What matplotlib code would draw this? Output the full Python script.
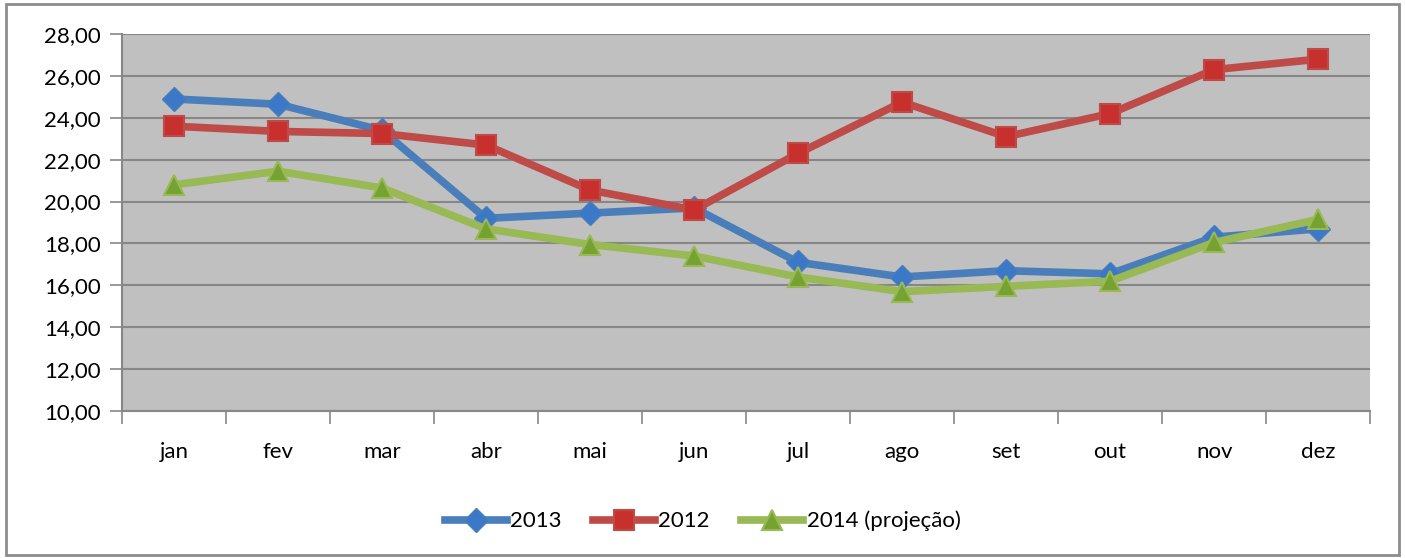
import matplotlib.pyplot as plt
import matplotlib.patches as patches
from matplotlib.ticker import FuncFormatter

months = ['jan', 'fev', 'mar', 'abr', 'mai', 'jun', 'jul', 'ago', 'set', 'out', 'nov', 'dez']
v2013 = [24.9, 24.65, 23.4, 19.2, 19.45, 19.7, 17.1, 16.4, 16.7, 16.55, 18.3, 18.7]
v2012 = [23.6, 23.35, 23.25, 22.7, 20.55, 19.6, 22.3, 24.75, 23.1, 24.2, 26.3, 26.8]
v2014 = [20.8, 21.45, 20.65, 18.7, 17.95, 17.4, 16.4, 15.7, 15.95, 16.2, 18.05, 19.15]

plt.rcParams['font.family'] = ['Lato', 'DejaVu Sans']

fig = plt.figure(figsize=(14.05, 5.58), dpi=100)
ax = fig.add_axes([0.0868, 0.2634, 0.8884, 0.6756])
ax.set_facecolor('#c0c0c0')

x = list(range(len(months)))
ax.plot(x, v2013, color='#4a7ebb', lw=5.5, marker='D', ms=12,
        mfc='#3c78c8', mec='#4a7ebb', mew=1, label='2013', zorder=3)
ax.plot(x, v2012, color='#be4b48', lw=5.5, marker='s', ms=15,
        mfc='#c8302e', mec='#be4b48', mew=1.5, label='2012', zorder=4)
ax.plot(x, v2014, color='#98b954', lw=5.5, marker='^', ms=15,
        mfc='#76a232', mec='#98b954', mew=1.5, label='2014 (projeção)', zorder=5)

ax.set_xlim(-0.5, 11.5)
ax.set_ylim(10, 28)
ax.set_yticks(range(10, 29, 2))
ax.yaxis.set_major_formatter(FuncFormatter(lambda v, p: f'{v:.2f}'.replace('.', ',')))
ax.grid(axis='y', color='#878787', lw=1.5, zorder=1)
ax.set_axisbelow(True)

ax.set_xticks(x)
ax.set_xticklabels(months)
ax.set_xticks([i - 0.5 for i in range(13)], minor=True)
ax.tick_params(axis='x', which='major', length=0, pad=22, labelsize=16)
ax.tick_params(axis='x', which='minor', length=9, width=1.2, color='#878787')
ax.tick_params(axis='y', length=9, width=1.2, color='#878787', labelsize=16, pad=6)

for s in ['top', 'right']:
    ax.spines[s].set_visible(False)
for s in ['left', 'bottom']:
    ax.spines[s].set_color('#878787')
    ax.spines[s].set_linewidth(1.5)

fig.legend(loc='center', bbox_to_anchor=(0.5, 0.066), ncol=3, frameon=False,
           fontsize=16, handlelength=2.8, columnspacing=1.4, handletextpad=0.15)

fig.patches.append(patches.Rectangle((0.004, 0.006), 0.992, 0.986, transform=fig.transFigure,
                                     fill=False, edgecolor='#8c8c8c', lw=2))

fig.savefig('out.png', dpi=100)
